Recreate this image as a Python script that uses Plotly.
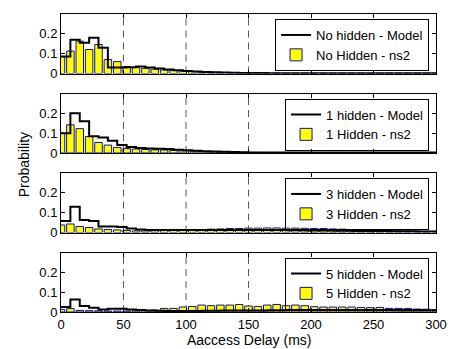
import plotly.graph_objects as go
from plotly.subplots import make_subplots

# Histogram bins (ms), bin width 7.5 ms
delay_ms = [i * 7.5 for i in range(41)]

# ---- No hidden ----
ns2_h0 = [0.085, 0.113, 0.163, 0.121, 0.146, 0.070, 0.060, 0.035, 0.030, 0.026,
          0.022, 0.018, 0.015, 0.012, 0.010, 0.008, 0.006, 0.005, 0.004, 0.003,
          0.003, 0.002, 0.002, 0.002, 0.001, 0.001, 0.001, 0.001, 0.001, 0.001,
          0.001, 0.001, 0.001, 0.001, 0.001, 0.001, 0.001, 0.001, 0.001, 0.001, 0.001]
model_h0 = [0.086, 0.170, 0.155, 0.180, 0.130, 0.030, 0.030, 0.032, 0.035, 0.030,
            0.025, 0.020, 0.016, 0.013, 0.010, 0.008, 0.006, 0.005, 0.004, 0.003,
            0.002, 0.002, 0.0015, 0.0015, 0.001, 0.001, 0.001, 0.001, 0.001, 0.001,
            0.001, 0.001, 0.001, 0.001, 0.001, 0.001, 0.001, 0.001, 0.001, 0.001, 0.001]

# ---- 1 hidden ----
ns2_h1 = [0.100, 0.142, 0.123, 0.083, 0.053, 0.040, 0.028, 0.022, 0.020, 0.018,
          0.016, 0.015, 0.013, 0.011, 0.009, 0.008, 0.006, 0.005, 0.004, 0.004,
          0.003, 0.003, 0.002, 0.002, 0.002, 0.002, 0.002, 0.001, 0.001, 0.001,
          0.001, 0.001, 0.001, 0.001, 0.001, 0.001, 0.001, 0.001, 0.001, 0.001, 0.001]
model_h1 = [0.100, 0.200, 0.160, 0.085, 0.078, 0.062, 0.040, 0.030, 0.025, 0.023,
            0.022, 0.020, 0.017, 0.014, 0.011, 0.009, 0.007, 0.006, 0.005, 0.004,
            0.003, 0.003, 0.002, 0.002, 0.002, 0.002, 0.002, 0.002, 0.002, 0.002,
            0.002, 0.002, 0.002, 0.002, 0.002, 0.002, 0.002, 0.002, 0.002, 0.002, 0.002]

# ---- 3 hidden ----
ns2_h3 = [0.038, 0.043, 0.030, 0.025, 0.018, 0.015, 0.013, 0.010, 0.008, 0.008,
          0.009, 0.010, 0.010, 0.012, 0.013, 0.015, 0.017, 0.018, 0.020, 0.020,
          0.022, 0.022, 0.023, 0.023, 0.022, 0.022, 0.021, 0.020, 0.020, 0.018,
          0.017, 0.015, 0.014, 0.012, 0.011, 0.010, 0.009, 0.008, 0.007, 0.006, 0.006]
model_h3 = [0.058, 0.130, 0.063, 0.058, 0.030, 0.030, 0.028, 0.020, 0.015, 0.013,
            0.012, 0.012, 0.012, 0.012, 0.012, 0.012, 0.012, 0.012, 0.012, 0.012,
            0.012, 0.012, 0.012, 0.012, 0.011, 0.011, 0.010, 0.010, 0.010, 0.009,
            0.009, 0.008, 0.008, 0.007, 0.007, 0.006, 0.006, 0.006, 0.005, 0.005, 0.005]

# ---- 5 hidden ----
ns2_h5 = [0.013, 0.017, 0.008, 0.007, 0.006, 0.005, 0.005, 0.005, 0.006, 0.008,
          0.010, 0.018, 0.018, 0.025, 0.028, 0.035, 0.032, 0.035, 0.035, 0.038,
          0.030, 0.028, 0.035, 0.038, 0.032, 0.035, 0.032, 0.027, 0.025, 0.025,
          0.025, 0.025, 0.023, 0.022, 0.023, 0.018, 0.018, 0.018, 0.015, 0.014, 0.012]
model_h5 = [0.025, 0.063, 0.030, 0.022, 0.013, 0.017, 0.017, 0.012, 0.010, 0.007,
            0.006, 0.005, 0.005, 0.005, 0.005, 0.006, 0.006, 0.007, 0.007, 0.008,
            0.008, 0.008, 0.009, 0.009, 0.010, 0.010, 0.010, 0.010, 0.010, 0.010,
            0.010, 0.010, 0.010, 0.010, 0.010, 0.010, 0.009, 0.009, 0.009, 0.009, 0.008]

model_names = ["No hidden - Model", "1 hidden - Model", "3 hidden - Model", "5 hidden - Model"]
ns2_names = ["No Hidden - ns2", "1 Hidden - ns2", "3 Hidden - ns2", "5 Hidden - ns2"]
models = [model_h0, model_h1, model_h3, model_h5]
ns2s = [ns2_h0, ns2_h1, ns2_h3, ns2_h5]

x_ticks = [0, 50, 100, 150, 200, 250, 300]
y_ticks = [0, 0.1, 0.2]
y_tick_text = ["0", "0.1", "0.2"]
dashed_at = [50, 100, 150]

FONT = "Liberation Sans, Arial, Helvetica, sans-serif"

W, H = 459, 349
L, R, T, B = 61, 20, 14, 37
plot_h = H - T - B
gap_px = 20

fig = make_subplots(rows=4, cols=1, shared_xaxes=False,
                    vertical_spacing=gap_px / plot_h)

panel_h = (plot_h - 3 * gap_px) / 4
panel_tops = [T + i * (panel_h + gap_px) for i in range(4)]

for i in range(4):
    leg = "legend" if i == 0 else f"legend{i+1}"
    fig.add_trace(go.Scatter(
        x=delay_ms, y=models[i], mode="lines", line_shape="hv",
        line=dict(color="black", width=2), name=model_names[i], legend=leg,
    ), row=i + 1, col=1)
    fig.add_trace(go.Bar(
        x=delay_ms, y=ns2s[i], name=ns2_names[i], legend=leg,
        marker=dict(color="#FFFF00", line=dict(color="#10109A", width=1)),
    ), row=i + 1, col=1)
    for xv in dashed_at:
        fig.add_vline(x=xv, line=dict(color="#5a5a5a", width=1, dash="7px,5px"),
                      row=i + 1, col=1, layer="below")

axis_common = dict(showline=True, linecolor="black", linewidth=1, mirror="allticks",
                   ticks="inside", ticklen=4, tickcolor="black", showgrid=False,
                   zeroline=False, tickfont=dict(family=FONT, size=13, color="black"))

for i in range(4):
    fig.update_xaxes(range=[0, 300], tickvals=x_ticks, showticklabels=(i == 3),
                     row=i + 1, col=1, **axis_common)
    fig.update_yaxes(range=[0, 0.3], tickvals=y_ticks, ticktext=y_tick_text,
                     row=i + 1, col=1, **axis_common)

legends = {}
for i in range(4):
    key = "legend" if i == 0 else f"legend{i+1}"
    top_px = panel_tops[i] + 5
    legends[key] = dict(
        x=(432 - L) / (W - L - R), xanchor="right",
        y=(H - B - top_px) / plot_h, yanchor="top",
        bgcolor="rgba(255,255,255,0)", bordercolor="black", borderwidth=1,
        font=dict(family=FONT, size=13, color="black"),
        traceorder="normal", tracegroupgap=0,
        entrywidth=125, entrywidthmode="pixels",
    )

fig.update_layout(
    width=W, height=H,
    margin=dict(l=L, r=R, t=T, b=B, pad=0),
    paper_bgcolor="white", plot_bgcolor="white",
    bargap=0.2, barmode="overlay",
    showlegend=True,
    font=dict(family=FONT, size=13, color="black"),
    **legends,
)

fig.add_annotation(text="Probability", textangle=-90, xref="paper", yref="paper",
                   x=(24 - L) / (W - L - R), y=(H - B - 165) / plot_h,
                   xanchor="center", yanchor="middle", showarrow=False,
                   font=dict(family=FONT, size=14, color="black"))
fig.add_annotation(text="Aaccess Delay (ms)", xref="paper", yref="paper",
                   x=0.5, y=(H - B - 340) / plot_h,
                   xanchor="center", yanchor="middle", showarrow=False,
                   font=dict(family=FONT, size=14, color="black"))

fig.write_html("out.html")
